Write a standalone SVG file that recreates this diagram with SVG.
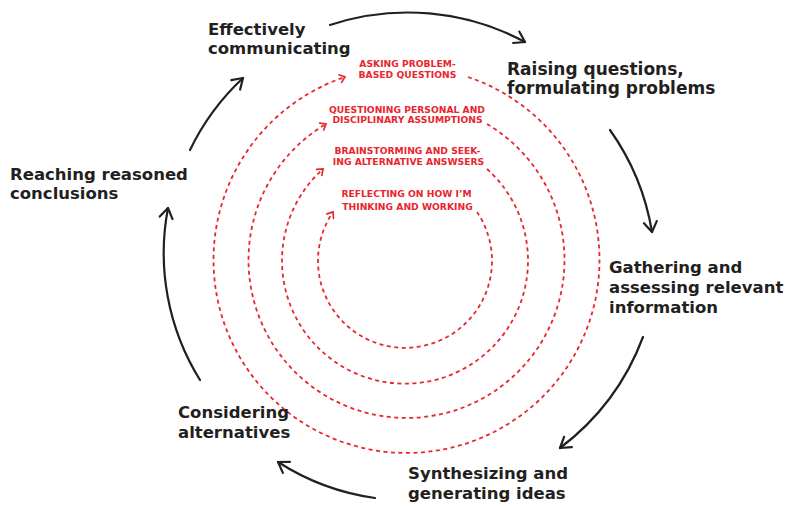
<svg xmlns="http://www.w3.org/2000/svg" width="789" height="506" viewBox="0 0 789 506">
<defs>
<style>
.lbl{font-family:"DejaVu Sans",sans-serif;font-weight:bold;font-size:16.5px;fill:#231f20}
.red{font-family:"DejaVu Sans",sans-serif;font-weight:bold;font-size:9.2px;fill:#e8262e;text-anchor:middle}
.blk{fill:none;stroke:#231f20;stroke-width:2.2;stroke-linecap:round;marker-end:url(#ah)}
.dash{fill:none;stroke:#e8262e;stroke-width:1.8;stroke-dasharray:4 3.5;marker-end:url(#rh)}
</style>
<marker id="ah" markerUnits="userSpaceOnUse" viewBox="-12 -8 14 16" refX="0" refY="0" markerWidth="14" markerHeight="16" orient="auto">
<path d="M-10,-6.5 L0,0 L-10,6.5" fill="none" stroke="#231f20" stroke-width="2.2" stroke-linecap="round" stroke-linejoin="round"/>
</marker>
<marker id="rh" markerUnits="userSpaceOnUse" viewBox="-8 -6 10 12" refX="0" refY="0" markerWidth="10" markerHeight="12" orient="auto">
<path d="M-5,-4 L0,0 L-5,4" fill="none" stroke="#e8262e" stroke-width="1.7" stroke-linecap="round"/>
</marker>
</defs>
<rect width="789" height="506" fill="#ffffff"/>
<g id="connectors">
<path class="blk" d="M330,25 A248,248 0 0,1 525,42"/>
<path class="blk" d="M610,130 A245,245 0 0,1 652,232"/>
<path class="blk" d="M643,337 A248,248 0 0,1 560,448"/>
<path class="blk" d="M375,498 A240,240 0 0,1 278,462"/>
<path class="blk" d="M200,380 A240,240 0 0,1 168,208"/>
<path class="blk" d="M190,150 A243,243 0 0,1 243,78"/>
<path class="dash" d="M468,77 A193,193 0 1,1 345,77"/>
<path class="dash" d="M487,124 A158,158 0 1,1 326,124"/>
<path class="dash" d="M487,169 A123,123 0 1,1 323,169"/>
<path class="dash" d="M477,212 A87,87 0 1,1 333,212"/>
</g>
<g id="effectively-communicating"><text class="lbl" x="208" y="35">Effectively</text><text class="lbl" x="208" y="53.5">communicating</text></g>
<g id="raising-questions"><text class="lbl" x="507" y="75" style="font-size:17px">Raising questions,</text><text class="lbl" x="507" y="93.5" style="font-size:17px">formulating problems</text></g>
<g id="gathering"><text class="lbl" x="609" y="273">Gathering and</text><text class="lbl" x="609" y="293">assessing relevant</text><text class="lbl" x="609" y="313">information</text></g>
<g id="synthesizing"><text class="lbl" x="408" y="479">Synthesizing and</text><text class="lbl" x="408" y="499">generating ideas</text></g>
<g id="considering"><text class="lbl" x="178" y="418">Considering</text><text class="lbl" x="178" y="438">alternatives</text></g>
<g id="reaching"><text class="lbl" x="10" y="180">Reaching reasoned</text><text class="lbl" x="10" y="199">conclusions</text></g>
<g id="asking"><text class="red" x="407.5" y="66.7">ASKING PROBLEM-</text><text class="red" x="407.5" y="78.3">BASED QUESTIONS</text></g>
<g id="questioning"><text class="red" x="407" y="112.7">QUESTIONING PERSONAL AND</text><text class="red" x="407.5" y="123.3">DISCIPLINARY ASSUMPTIONS</text></g>
<g id="brainstorming"><text class="red" x="407.5" y="154">BRAINSTORMING AND SEEK-</text><text class="red" x="408.5" y="165">ING ALTERNATIVE ANSWSERS</text></g>
<g id="reflecting"><text class="red" x="406.5" y="196.7">REFLECTING ON HOW I’M</text><text class="red" x="407.5" y="210">THINKING AND WORKING</text></g>
</svg>
